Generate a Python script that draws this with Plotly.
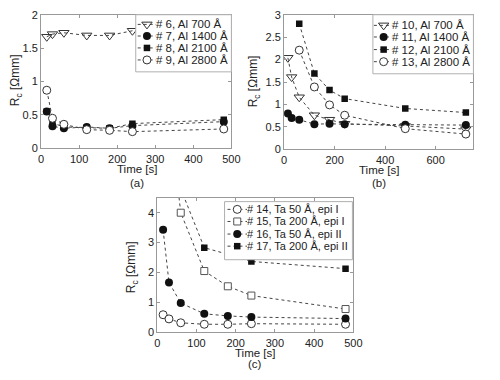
import plotly.graph_objects as go

# ---------------- data ----------------
t_a = [15, 30, 60, 120, 180, 240, 480]
a_s6 = [1.67, 1.71, 1.73, 1.69, 1.69, 1.76, 1.80]
a_s7 = [0.55, 0.33, 0.30, 0.32, 0.30, 0.34, 0.40]
a_s8 = [0.55, 0.38, 0.32, 0.31, 0.30, 0.37, 0.43]
a_s9 = [0.87, 0.45, 0.36, 0.28, 0.27, 0.25, 0.29]

t_b = [15, 30, 60, 120, 180, 240, 480, 720]
b_s10 = [2.04, 1.61, 1.16, 0.76, 0.66, 0.57, 0.52, 0.45]
b_s11 = [0.80, 0.70, 0.66, 0.56, 0.57, 0.56, 0.55, 0.54]
t_b2 = [60, 120, 180, 240, 480, 720]
b_s12 = [2.80, 1.69, 1.32, 1.13, 0.91, 0.82]
b_s13 = [2.21, 1.39, 0.99, 0.76, 0.46, 0.34]

t_c = [15, 30, 60, 120, 180, 240, 480]
c_s14 = [0.59, 0.45, 0.32, 0.27, 0.27, 0.29, 0.27]
t_c15 = [30, 60, 120, 180, 240, 480]
c_s15 = [7.5, 4.0, 2.05, 1.54, 1.23, 0.78]
c_s16 = [3.43, 1.67, 0.98, 0.62, 0.55, 0.51, 0.46]
t_c17 = [60, 120, 180, 240, 480]
c_s17 = [4.8, 2.83, 2.61, 2.37, 2.13]

names_a = ["# 6, Al 700 Å", "# 7, Al 1400 Å", "# 8, Al 2100 Å", "# 9, Al 2800 Å"]
names_b = ["# 10, Al 700 Å", "# 11, Al 1400 Å", "# 12, Al 2100 Å", "# 13, Al 2800 Å"]
names_c = ["# 14, Ta 50 Å, epi I", "# 15, Ta 200 Å, epi I", "# 16, Ta 50 Å, epi II", "# 17, Ta 200 Å, epi II"]

# ---------------- styles ----------------
LINE = dict(color="#444444", width=1, dash="dot")
TRI = dict(symbol="triangle-down-open", size=9, color="#333333", line=dict(width=1))
DOT = dict(symbol="circle", size=8, color="#111111")
SQ = dict(symbol="square", size=6.5, color="#111111")
OC = dict(symbol="circle", size=8, color="white", line=dict(color="#333333", width=1))
OSQ = dict(symbol="square", size=7, color="white", line=dict(color="#555555", width=1))
FONT = "Liberation Sans, Arial, sans-serif"

fig = go.Figure()

def add(x, y, marker, xa, ya):
    fig.add_trace(go.Scatter(x=x, y=y, mode="lines+markers", line=LINE,
                             marker=marker, xaxis=xa, yaxis=ya, showlegend=False))

add(t_a, a_s6, TRI, "x", "y")
add(t_a, a_s7, DOT, "x", "y")
add(t_a, a_s8, SQ, "x", "y")
add(t_a, a_s9, OC, "x", "y")

add(t_b, b_s10, TRI, "x2", "y2")
add(t_b, b_s11, DOT, "x2", "y2")
add(t_b2, b_s12, SQ, "x2", "y2")
add(t_b2, b_s13, OC, "x2", "y2")

add(t_c, c_s14, OC, "x3", "y3")
add(t_c15, c_s15, OSQ, "x3", "y3")
add(t_c, c_s16, DOT, "x3", "y3")
add(t_c17, c_s17, SQ, "x3", "y3")

# ---------------- custom legends (overlay pixel axes) ----------------
annotations = []

def legend(box, line_x, mark_x, text_x, ys, names, markers, fsize):
    x0, x1, y0, y1 = box
    fig.add_trace(go.Scatter(x=[x0, x1, x1, x0, x0], y=[y0, y0, y1, y1, y0], mode="lines",
                             fill="toself", fillcolor="white",
                             line=dict(color="#b0b0b0", width=1),
                             xaxis="x4", yaxis="y4", showlegend=False, hoverinfo="skip"))
    for yy, nm, mk in zip(ys, names, markers):
        fig.add_trace(go.Scatter(x=list(line_x), y=[yy, yy], mode="lines", line=LINE,
                                 xaxis="x4", yaxis="y4", showlegend=False, hoverinfo="skip"))
        fig.add_trace(go.Scatter(x=[mark_x], y=[yy], mode="markers", marker=mk,
                                 xaxis="x4", yaxis="y4", showlegend=False, hoverinfo="skip"))
        annotations.append(dict(x=text_x, y=yy, xref="x4", yref="y4", text=nm, showarrow=False,
                                xanchor="left", yanchor="middle",
                                font=dict(family=FONT, size=fsize, color="#222222")))

legend((136, 234, 9, 68), (138, 157), 147.5, 155, [19, 31, 43.3, 55.7], names_a, [TRI, DOT, SQ, OC], 11.5)
legend((379, 482, 9, 70), (380, 399), 390, 397, [20, 32, 45, 57.5], names_b, [TRI, DOT, SQ, OC], 11.5)
legend((227, 358, 202, 262), (230, 250), 240, 248, [210, 222.5, 235.5, 248], names_c, [OC, OSQ, DOT, SQ], 11)

# ---------------- axes ----------------
def ax(domain, rng, dtick, **kw):
    d = dict(domain=domain, range=rng, dtick=dtick, tick0=0, showgrid=False, zeroline=False,
             showline=True, linecolor="#999999", linewidth=1, mirror="ticks",
             ticks="inside", ticklen=3, tickcolor="#999999",
             tickfont=dict(family=FONT, size=11, color="#222222"))
    d.update(kw)
    return d

W, H = 500, 380
fig.update_layout(
    width=W, height=H, margin=dict(l=0, r=0, t=0, b=0),
    paper_bgcolor="white", plot_bgcolor="rgba(0,0,0,0)", showlegend=False,
    xaxis=ax([39 / W, 234 / W], [0, 500], 100, anchor="y"),
    yaxis=ax([1 - 147 / H, 1 - 9 / H], [0, 2], 0.5, anchor="x"),
    xaxis2=ax([288 / W, 482 / W], [0, 750], 200, anchor="y2"),
    yaxis2=ax([1 - 148 / H, 1 - 9 / H], [0, 3], 0.5, anchor="x2"),
    xaxis3=ax([158 / W, 359 / W], [0, 500], 100, anchor="y3"),
    yaxis3=ax([1 - 337 / H, 1 - 198 / H], [0, 4.5], 1, anchor="x3"),
    xaxis4=dict(domain=[0, 1], range=[0, W], visible=False, anchor="y4", fixedrange=True),
    yaxis4=dict(domain=[0, 1], range=[H, 0], visible=False, anchor="x4", fixedrange=True),
)

def lab(x, y, text, angle=0, size=11.5):
    annotations.append(dict(x=x / W, y=1 - y / H, xref="paper", yref="paper", text=text,
                            showarrow=False, textangle=angle, xanchor="center", yanchor="middle",
                            font=dict(family=FONT, size=size, color="#222222")))

lab(137, 168, "Time [s]")
lab(385, 169, "Time [s]")
lab(258, 358, "Time [s]")
lab(137, 183, "(a)")
lab(385, 183, "(b)")
lab(258, 370, "(c)")
lab(13, 77, "R<sub>c</sub> [Ωmm]", -90, 12)
lab(257, 78, "R<sub>c</sub> [Ωmm]", -90, 12)
lab(133, 270, "R<sub>c</sub> [Ωmm]", -90, 12)

fig.update_layout(annotations=annotations)
fig.write_html("out.html", config={"displayModeBar": False},
               post_script="document.body.style.margin='0px';")
